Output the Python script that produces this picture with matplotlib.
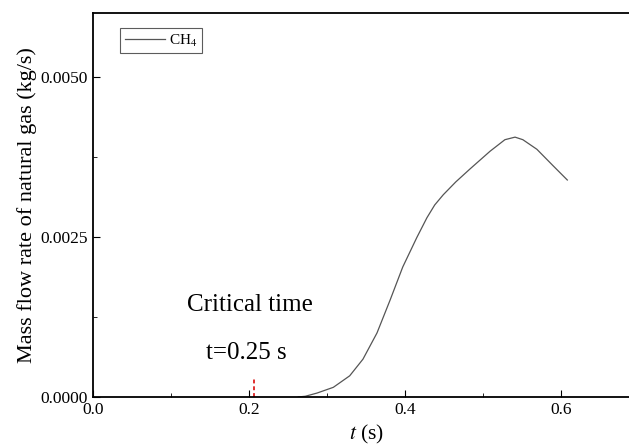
import matplotlib.pyplot as plt
from matplotlib.ticker import MultipleLocator, FormatStrFormatter

plt.rcParams['font.family'] = ['Liberation Serif', 'DejaVu Serif']
plt.rcParams['mathtext.fontset'] = 'stix'

# data
t = [0.263, 0.272, 0.287, 0.308, 0.329, 0.346, 0.364, 0.381, 0.397, 0.415,
     0.428, 0.438, 0.449, 0.465, 0.483, 0.509, 0.528, 0.541, 0.551, 0.569, 0.590, 0.608]
m_flow = [0.0, 0.00001, 0.00006, 0.00015, 0.00033, 0.00059, 0.0010, 0.00152, 0.00203, 0.00249,
          0.0028, 0.0030, 0.00316, 0.00336, 0.00356, 0.00384, 0.00402, 0.00406, 0.00402, 0.00387,
          0.00361, 0.00339]
crit_t = 0.206
crit_h = 0.00028

fig = plt.figure(figsize=(6.29, 4.48), dpi=100)
ax = fig.add_axes([0.148, 0.114, 1.016 - 0.148, 0.971 - 0.114])

ax.plot(t, m_flow, color='#555555', lw=0.9, label='CH$_4$')
ax.plot([crit_t, crit_t], [0, crit_h], color='#e03030', lw=1.4, ls=(0, (2, 1.5)))

ax.text(0.201, 0.00144, 'Critical time', fontsize=18, ha='center', va='center')
ax.text(0.197, 0.00069, 't=0.25 s', fontsize=18, ha='center', va='center')

ax.set_xlim(0, 0.7)
ax.set_ylim(0, 0.006)
ax.xaxis.set_major_locator(MultipleLocator(0.2))
ax.xaxis.set_minor_locator(MultipleLocator(0.1))
ax.yaxis.set_major_locator(MultipleLocator(0.0025))
ax.yaxis.set_minor_locator(MultipleLocator(0.00125))
ax.xaxis.set_major_formatter(FormatStrFormatter('%.1f'))
ax.yaxis.set_major_formatter(FormatStrFormatter('%.4f'))
ax.tick_params(which='both', direction='in', labelsize=12.5)
ax.tick_params(which='major', length=5)
ax.tick_params(which='minor', length=3)
for s in ax.spines.values():
    s.set_linewidth(1.3)

ax.set_xlabel('$t$ (s)', fontsize=15.5, labelpad=4)
ax.set_ylabel('Mass flow rate of natural gas (kg/s)', fontsize=16, labelpad=3)

leg = ax.legend(loc='upper left', fontsize=11, frameon=True, fancybox=False,
                edgecolor='#333333', handlelength=2.6, handletextpad=0.3,
                borderpad=0.3, borderaxespad=0, bbox_to_anchor=(0.05, 0.961))
leg.get_frame().set_linewidth(0.8)

fig.savefig('out.png', dpi=100)
